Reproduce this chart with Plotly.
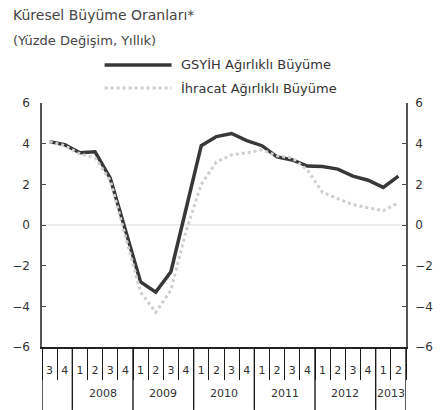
import plotly.graph_objects as go

quarters = ["3", "4", "1", "2", "3", "4", "1", "2", "3", "4", "1", "2", "3", "4",
            "1", "2", "3", "4", "1", "2", "3", "4", "1", "2"]
years = ["2008", "2009", "2010", "2011", "2012", "2013"]
year_quarters = [4, 4, 4, 4, 4, 2]
gdp_weighted = [4.1, 3.95, 3.55, 3.6, 2.3, -0.3, -2.8, -3.3, -2.3, 0.8, 3.9, 4.35,
                4.5, 4.15, 3.9, 3.35, 3.2, 2.9, 2.88, 2.75, 2.4, 2.2, 1.85, 2.4]
export_weighted = [4.1, 3.9, 3.5, 3.3, 2.2, -0.6, -3.3, -4.3, -3.2, -0.3, 2.0, 3.1,
                   3.45, 3.55, 3.7, 3.4, 3.3, 2.7, 1.6, 1.3, 1.0, 0.85, 0.7, 1.1]
y_ticks = [-6, -4, -2, 0, 2, 4, 6]
title = "Küresel Büyüme Oranları*"
subtitle = "(Yüzde Değişim, Yıllık)"

xs = [i + 0.5 for i in range(len(quarters))]
font = "DejaVu Sans, Verdana, sans-serif"
col = "#333333"

fig = go.Figure()
fig.add_trace(go.Scatter(x=xs, y=export_weighted, mode="lines", yaxis="y2",
                         line=dict(color="#cfcfcf", width=3, dash="dot"),
                         name="İhracat Ağırlıklı Büyüme"))
fig.add_trace(go.Scatter(x=xs, y=gdp_weighted, mode="lines",
                         line=dict(color="#383838", width=3.5),
                         name="GSYİH Ağırlıklı Büyüme"))

shapes = []
annotations = []
n = len(quarters)
# year separators and labels
start = n - sum(year_quarters)
bounds = [0, start]
pos = start
for yq in year_quarters:
    pos += yq
    bounds.append(pos)
for b in bounds:
    shapes.append(dict(type="line", xref="x", yref="paper", x0=b, x1=b, y0=0, y1=-0.258,
                       layer="above", line=dict(color="#1a1a1a", width=1.4)))
pos = start
for yr, yq in zip(years, year_quarters):
    annotations.append(dict(x=pos + yq / 2, y=-0.189, xref="x", yref="paper", text=yr,
                            yanchor="middle", showarrow=False,
                            font=dict(size=11, color=col, family=font)))
    pos += yq

# legend
legend_items = [("GSYİH Ağırlıklı Büyüme", "#383838", "solid", 3.5, 1.156),
                ("İhracat Ağırlıklı Büyüme", "#cfcfcf", "dot", 3, 1.061)]
for name, c, d, w, yy in legend_items:
    shapes.append(dict(type="line", xref="paper", yref="paper", x0=0.172, x1=0.356,
                       y0=yy, y1=yy, line=dict(color=c, width=w, dash=d)))
    annotations.append(dict(x=0.375, y=yy, xref="paper", yref="paper", text=name,
                            xanchor="left", yanchor="middle", showarrow=False,
                            font=dict(size=13, color=col, family=font)))

# titles
annotations.append(dict(x=-0.085, y=1.361, xref="paper", yref="paper", text=title,
                        xanchor="left", yanchor="middle", showarrow=False,
                        font=dict(size=14, color="#444", family=font)))
annotations.append(dict(x=-0.085, y=1.258, xref="paper", yref="paper", text=subtitle,
                        xanchor="left", yanchor="middle", showarrow=False,
                        font=dict(size=13, color="#444", family=font)))

fig.update_layout(
    width=445, height=410,
    margin=dict(l=40, r=26, t=103, b=63),
    plot_bgcolor="white", paper_bgcolor="white",
    showlegend=False,
    shapes=shapes, annotations=annotations,
    xaxis=dict(range=[0, n], tickmode="array", tickvals=xs, ticktext=quarters,
               ticks="", ticklabelstandoff=12,
               tickfont=dict(size=11, color=col, family=font),
               minor=dict(tickmode="array", tickvals=list(range(n + 1)), ticks="outside",
                          ticklen=31, tickwidth=1.3, tickcolor="#1a1a1a", showgrid=False),
               showgrid=False,
               zeroline=False, showline=True, linecolor="#222", linewidth=1.5),
    yaxis=dict(range=[-6, 6], tickvals=y_ticks, ticks="inside", ticklen=4,
               ticklabelstandoff=8,
               showgrid=False, zeroline=True, zerolinecolor="#ececec", zerolinewidth=1.5,
               showline=True, linecolor="#555", linewidth=1.5,
               tickfont=dict(size=12, color=col, family=font)),
    yaxis2=dict(range=[-6, 6], tickvals=y_ticks, overlaying="y", side="right",
                ticks="inside", ticklen=4, ticklabelstandoff=5,
                showgrid=False, zeroline=False,
                showline=True, linecolor="#555", linewidth=1.5,
                tickfont=dict(size=12, color=col, family=font)),
)

fig.write_html("out.html")
